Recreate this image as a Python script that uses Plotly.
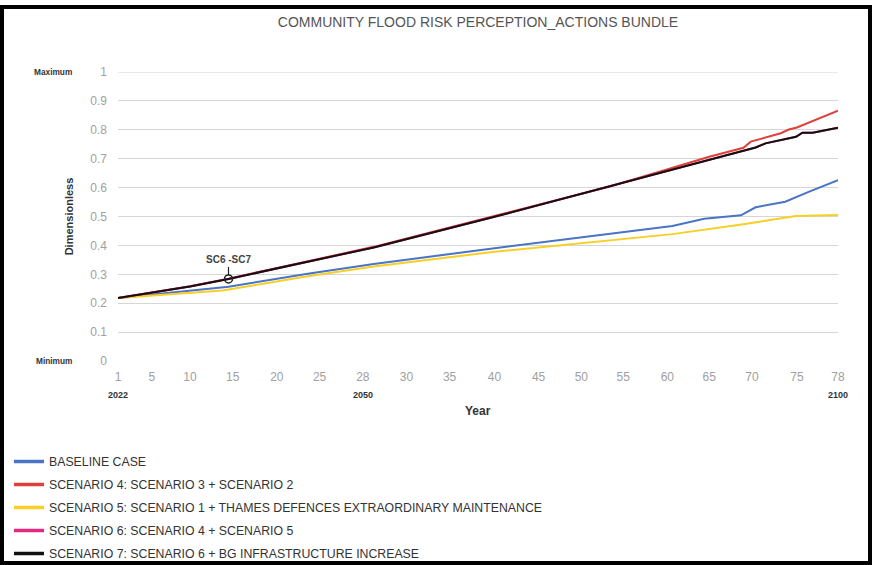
import numpy as np
import plotly.graph_objects as go

# ---- data -------------------------------------------------------------
TICK_YEARS = [1, 5, 10, 15, 20, 25, 28, 30, 35, 40, 45, 50, 55, 60, 65, 70, 75, 78]
# where each tick label sits along the horizontal axis (slot units)
TICK_POS = [0, 0.80, 1.70, 2.71, 3.75, 4.76, 5.78, 6.81, 7.83, 8.89,
            9.93, 10.94, 11.93, 12.97, 13.96, 14.97, 16.03, 17.0]
CAL_YEARS = {1: "2022", 28: "2050", 78: "2100"}

base_t = [1, 14.5, 23.8, 28.5, 40, 54.0, 60.6, 64.4, 68.7, 70.4, 73.7, 75.9, 78]
base_v = [0.218, 0.257, 0.303, 0.336, 0.390, 0.443, 0.467, 0.492, 0.504, 0.532, 0.551, 0.586, 0.626]

sc4_t = [1, 10, 14.5, 28.5, 40, 53.3, 59.1, 65, 69.0, 69.85, 73.2, 74.1, 75.0, 78]
sc4_v = [0.218, 0.259, 0.285, 0.395, 0.502, 0.603, 0.655, 0.707, 0.738, 0.759, 0.788, 0.801, 0.808, 0.866]

sc5_t = [1, 13.8, 23.8, 28.5, 40, 54.0, 60.6, 69.0, 74.9, 78]
sc5_v = [0.218, 0.244, 0.294, 0.327, 0.378, 0.418, 0.439, 0.473, 0.502, 0.505]

sc7_t = [1, 10, 14.5, 28.5, 40, 52.1, 65, 68.5, 70.4, 71.5, 74.9, 75.4, 76.15, 78]
sc7_v = [0.218, 0.258, 0.284, 0.393, 0.499, 0.596, 0.696, 0.724, 0.739, 0.753, 0.776, 0.790, 0.790, 0.807]

# scenario 6 coincides with scenario 7
sc6_t = list(sc7_t)
sc6_v = list(sc7_v)

MARK_T = 14.5
MARK_LABEL = "SC6 -SC7"

SERIES = [
    ("BASELINE CASE", base_t, base_v, "#4a74c5"),
    ("SCENARIO 4: SCENARIO 3 + SCENARIO 2", sc4_t, sc4_v, "#e0403a"),
    ("SCENARIO 5: SCENARIO 1 + THAMES DEFENCES EXTRAORDINARY MAINTENANCE", sc5_t, sc5_v, "#f7cf25"),
    ("SCENARIO 6: SCENARIO 4 + SCENARIO 5", sc6_t, sc6_v, "#e2297e"),
    ("SCENARIO 7: SCENARIO 6 + BG INFRASTRUCTURE INCREASE", sc7_t, sc7_v, "#111111"),
]


def to_axis(t):
    return np.interp(t, TICK_YEARS, TICK_POS)


# ---- layout geometry ---------------------------------------------------
W, H = 872, 565
ML, MR, MT, MB = 118, 34, 72, 204
PW, PH = W - ML - MR, H - MT - MB


def px(x):
    return (x - ML) / PW


def py(y):
    return (H - MB - y) / PH


FONT = "Liberation Sans, Arial, Helvetica, sans-serif"

fig = go.Figure()
for i, (name, t, v, col) in enumerate(SERIES):
    fig.add_trace(go.Scatter(
        x=to_axis(t), y=v, mode="lines", name=name, showlegend=False,
        line=dict(color=col, width=2), legendgroup=f"g{i}",
    ))
    # legend key drawn with a heavier stroke
    fig.add_trace(go.Scatter(
        x=[None], y=[None], mode="lines", name=name, showlegend=True,
        line=dict(color=col, width=3.5), legendgroup=f"g{i}",
    ))

# marker for the coincident scenario 6 / scenario 7 point
mark_v = float(np.interp(MARK_T, sc7_t, sc7_v))
fig.add_trace(go.Scatter(
    x=[to_axis(MARK_T)], y=[mark_v], mode="markers", showlegend=False,
    marker=dict(symbol="circle-open", size=8, color="#222222", line=dict(width=1.5)),
))
fig.add_annotation(
    x=to_axis(MARK_T), y=mark_v, text=f"<b>{MARK_LABEL}</b>",
    showarrow=True, arrowhead=0, arrowwidth=1.2, arrowcolor="#222222",
    ax=0, ay=-19, standoff=4, font=dict(family=FONT, size=10, color="#444444"),
)

# calendar years under the step ticks
for step, yr in CAL_YEARS.items():
    fig.add_annotation(
        x=to_axis(step), y=py(395), xref="x", yref="paper", text=f"<b>{yr}</b>",
        yanchor="middle", showarrow=False, font=dict(family=FONT, size=9, color="#333333"),
    )

# scale end captions
for val, cap in [(1, "Maximum"), (0, "Minimum")]:
    fig.add_annotation(
        x=px(74), y=val, xref="paper", yref="y", text=f"<b>{cap}</b>",
        xanchor="right", showarrow=False, font=dict(family=FONT, size=8.3, color="#333333"),
    )

# axis title for the step axis
fig.add_annotation(
    x=0.5, y=py(411), xref="paper", yref="paper", text="<b>Year</b>", yanchor="middle",
    showarrow=False, font=dict(family=FONT, size=12, color="#333333"),
)

# outer frame
frame = dict(type="rect", xref="paper", yref="paper", layer="above",
             fillcolor="black", line=dict(width=0))
fig.add_shape(**frame, x0=px(0), x1=px(4), y0=py(565), y1=py(5))
fig.add_shape(**frame, x0=px(0), x1=px(872), y0=py(9), y1=py(5))
fig.add_shape(**frame, x0=px(868), x1=px(872), y0=py(565), y1=py(5))
fig.add_shape(**frame, x0=px(0), x1=px(872), y0=py(565), y1=py(561))

fig.update_layout(
    width=W, height=H,
    margin=dict(l=ML, r=MR, t=MT, b=MB, autoexpand=False),
    paper_bgcolor="white", plot_bgcolor="white",
    font=dict(family=FONT, color="#333333"),
    title=dict(text="COMMUNITY FLOOD RISK PERCEPTION_ACTIONS BUNDLE",
               x=0.5, xref="paper", y=1 - 22 / H, yanchor="middle",
               font=dict(family=FONT, size=14, color="#555555")),
    xaxis=dict(
        range=[0, 17], tickmode="array", tickvals=TICK_POS,
        ticktext=[str(v) for v in TICK_YEARS], showgrid=False, zeroline=False,
        showline=False, ticks="", tickfont=dict(family=FONT, size=12, color="#a0a0a0"),
        ticklabelstandoff=7,
    ),
    yaxis=dict(
        range=[0, 1.0], tickmode="array", tickvals=[0, 0.1, 0.2, 0.3, 0.4, 0.5, 0.6, 0.7, 0.8, 0.9, 1],
        ticktext=["0", "0.1", "0.2", "0.3", "0.4", "0.5", "0.6", "0.7", "0.8", "0.9", "1"],
        showgrid=True, gridcolor="#d6d6d6", gridwidth=1, zeroline=False, showline=False,
        ticks="", tickfont=dict(family=FONT, size=12, color="#a0a0a0"), ticklabelstandoff=10,
        title=dict(text="<b>Dimensionless</b>", font=dict(family=FONT, size=11, color="#333333"), standoff=14),
    ),
    legend=dict(
        x=px(9), y=py(447), xanchor="left", yanchor="top", orientation="v",
        font=dict(family=FONT, size=12.3, color="#333333"), tracegroupgap=4,
        bgcolor="rgba(0,0,0,0)",
    ),
    showlegend=True,
)

# grid line at the top edge of the value range
fig.add_shape(type="line", xref="paper", yref="y", x0=0, x1=1, y0=1, y1=1,
              line=dict(color="#d6d6d6", width=1), layer="below")

fig.write_html("out.html")
